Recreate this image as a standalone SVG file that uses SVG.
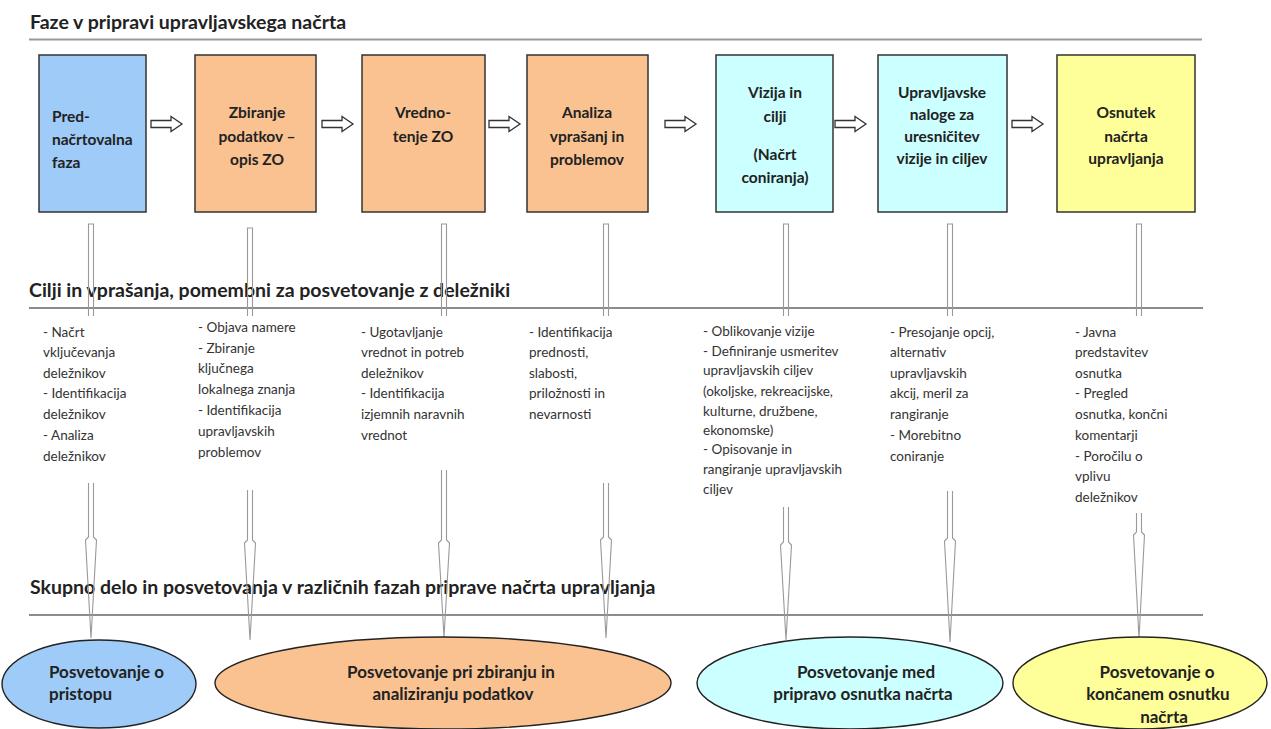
<svg xmlns="http://www.w3.org/2000/svg" xmlns:xlink="http://www.w3.org/1999/xlink" width="1271" height="729" viewBox="0 0 1271 729">
  <style>
    .head { font-family: Lato, "Liberation Sans", sans-serif; font-weight: bold; font-size: 19.5px; fill: #222; }
    .rule1 { stroke: #9a9a9a; stroke-width: 2; }
    .rule { stroke: #666; stroke-width: 1.3; }
    .box { stroke: #333; stroke-width: 1.5; }
    .btxt { font-family: Lato, "Liberation Sans", sans-serif; font-weight: bold; font-size: 15.5px; fill: #222; }
    .body { font-family: Lato, "Liberation Sans", sans-serif; font-size: 13.5px; fill: #333; }
    .etxt { font-family: Lato, "Liberation Sans", sans-serif; font-weight: bold; font-size: 17px; fill: #222; }
    .mid { text-anchor: middle; }
    .blue { fill: #9ECBF7; }
    .orange { fill: #FAC291; }
    .cyan { fill: #CCFFFF; }
    .yellow { fill: #FFFF99; }
    .shaft { fill: none; stroke: #999; stroke-width: 1.1; }
    .flow { fill: #fff; stroke: #333; stroke-width: 1.3; }
    .oval { stroke: #222; stroke-width: 1.4; }
  </style>
  <defs>
    <path id="blockArrow" d="M0,-3.5 H20 V-7.5 L31,0 L20,7.5 V3.5 H0 Z"/>
  </defs>

  <!-- section headings and rules -->
  <g id="headings">
    <text class="head" x="30" y="29">Faze v pripravi upravljavskega načrta</text>
    <line class="rule1" x1="29" y1="39.5" x2="1202" y2="39.5"/>
    <text class="head" x="29" y="297">Cilji in vprašanja, pomembni za posvetovanje z deležniki</text>
    <line class="rule" x1="29" y1="308" x2="1203" y2="308"/>
    <text class="head" x="30" y="594">Skupno delo in posvetovanja v različnih fazah priprave načrta upravljanja</text>
    <line class="rule" x1="29" y1="615" x2="1203" y2="615"/>
  </g>

  <!-- connectors: flow arrows between phases and vertical links -->
  <g id="connectors">
    <use href="#blockArrow" class="flow" x="151" y="124"/>
    <use href="#blockArrow" class="flow" x="322" y="124"/>
    <use href="#blockArrow" class="flow" x="489" y="124"/>
    <use href="#blockArrow" class="flow" x="665" y="124"/>
    <use href="#blockArrow" class="flow" x="835" y="124"/>
    <use href="#blockArrow" class="flow" x="1012" y="124"/>

    <!-- upper links -->
    <path class="shaft" d="M88.5,316 V224 H93.5 V316"/>
    <path class="shaft" d="M247.5,316 V228 H252.5 V316"/>
    <path class="shaft" d="M441.5,316 V224 H446.5 V316"/>
    <path class="shaft" d="M603.5,316 V224 H608.5 V316"/>
    <path class="shaft" d="M783.5,316 V224 H788.5 V316"/>
    <path class="shaft" d="M947.5,316 V224 H952.5 V316"/>
    <path class="shaft" d="M1136.5,316 V224 H1141.5 V316"/>

    <!-- lower links with long tapered heads -->
    <path class="shaft" d="M88.5,483 V537 L85.5,540 L91,638 L96.5,540 L93.5,537 V483"/>
    <path class="shaft" d="M247.5,490 V540 L244.5,543 L250,640 L255.5,543 L252.5,540 V490"/>
    <path class="shaft" d="M441.5,470 V540 L438.5,543 L444,637 L449.5,543 L446.5,540 V470"/>
    <path class="shaft" d="M603.5,483 V537 L600.5,540 L606,638 L611.5,540 L608.5,537 V483"/>
    <path class="shaft" d="M783.5,507 V542 L780.5,545 L786,640 L791.5,545 L788.5,542 V507"/>
    <path class="shaft" d="M947.5,491 V538 L944.5,541 L950,642 L955.5,541 L952.5,538 V491"/>
    <path class="shaft" d="M1136.5,513 V532 L1133.5,535 L1139,638 L1144.5,535 L1141.5,532 V513"/>
  </g>

  <!-- phase boxes -->
  <g id="phase-1">
    <rect class="box blue" x="39" y="55" width="107" height="157"/>
    <text class="btxt" x="52"><tspan x="52" y="122">Pred-</tspan><tspan x="52" y="145">načrtovalna</tspan><tspan x="52" y="168">faza</tspan></text>
  </g>
  <g id="phase-2">
    <rect class="box orange" x="195" y="55" width="121" height="157"/>
    <text class="btxt mid"><tspan x="257" y="118">Zbiranje</tspan><tspan x="257" y="142">podatkov –</tspan><tspan x="257" y="165">opis ZO</tspan></text>
  </g>
  <g id="phase-3">
    <rect class="box orange" x="362" y="55" width="123" height="157"/>
    <text class="btxt mid"><tspan x="423" y="118">Vredno-</tspan><tspan x="423" y="142">tenje ZO</tspan></text>
  </g>
  <g id="phase-4">
    <rect class="box orange" x="527" y="55" width="121" height="157"/>
    <text class="btxt mid"><tspan x="587" y="118">Analiza</tspan><tspan x="587" y="142">vprašanj in</tspan><tspan x="587" y="165">problemov</tspan></text>
  </g>
  <g id="phase-5">
    <rect class="box cyan" x="716" y="55" width="117" height="157"/>
    <text class="btxt mid"><tspan x="775" y="98">Vizija in</tspan><tspan x="775" y="122">cilji</tspan><tspan x="775" y="160">(Načrt</tspan><tspan x="775" y="183">coniranja)</tspan></text>
  </g>
  <g id="phase-6">
    <rect class="box cyan" x="878" y="55" width="129" height="157"/>
    <text class="btxt mid"><tspan x="942" y="98">Upravljavske</tspan><tspan x="942" y="120">naloge za</tspan><tspan x="942" y="142">uresničitev</tspan><tspan x="942" y="164">vizije in ciljev</tspan></text>
  </g>
  <g id="phase-7">
    <rect class="box yellow" x="1057" y="55" width="138" height="157"/>
    <text class="btxt mid"><tspan x="1126" y="118">Osnutek</tspan><tspan x="1126" y="142">načrta</tspan><tspan x="1126" y="164">upravljanja</tspan></text>
  </g>

  <!-- consultation goals per phase -->
  <g id="goals-1">
    <text class="body"><tspan x="43" y="337">- Načrt</tspan><tspan x="43" y="357">vključevanja</tspan><tspan x="43" y="378">deležnikov</tspan><tspan x="43" y="398">- Identifikacija</tspan><tspan x="43" y="419">deležnikov</tspan><tspan x="43" y="440">- Analiza</tspan><tspan x="43" y="461">deležnikov</tspan></text>
  </g>
  <g id="goals-2">
    <text class="body"><tspan x="198" y="332">- Objava namere</tspan><tspan x="198" y="353">- Zbiranje</tspan><tspan x="198" y="373">ključnega</tspan><tspan x="198" y="394">lokalnega znanja</tspan><tspan x="198" y="415">- Identifikacija</tspan><tspan x="198" y="436">upravljavskih</tspan><tspan x="198" y="457">problemov</tspan></text>
  </g>
  <g id="goals-3">
    <text class="body"><tspan x="361" y="337">- Ugotavljanje</tspan><tspan x="361" y="357">vrednot in potreb</tspan><tspan x="361" y="378">deležnikov</tspan><tspan x="361" y="398">- Identifikacija</tspan><tspan x="361" y="419">izjemnih naravnih</tspan><tspan x="361" y="440">vrednot</tspan></text>
  </g>
  <g id="goals-4">
    <text class="body"><tspan x="529" y="337">- Identifikacija</tspan><tspan x="529" y="357">prednosti,</tspan><tspan x="529" y="378">slabosti,</tspan><tspan x="529" y="398">priložnosti in</tspan><tspan x="529" y="419">nevarnosti</tspan></text>
  </g>
  <g id="goals-5">
    <text class="body"><tspan x="703" y="336">- Oblikovanje vizije</tspan><tspan x="703" y="356">- Definiranje usmeritev</tspan><tspan x="703" y="375">upravljavskih ciljev</tspan><tspan x="703" y="396">(okoljske, rekreacijske,</tspan><tspan x="703" y="416">kulturne, družbene,</tspan><tspan x="703" y="435">ekonomske)</tspan><tspan x="703" y="454">- Opisovanje in</tspan><tspan x="703" y="474">rangiranje upravljavskih</tspan><tspan x="703" y="494">ciljev</tspan></text>
  </g>
  <g id="goals-6">
    <text class="body"><tspan x="890" y="337">- Presojanje opcij,</tspan><tspan x="890" y="357">alternativ</tspan><tspan x="890" y="378">upravljavskih</tspan><tspan x="890" y="398">akcij, meril za</tspan><tspan x="890" y="419">rangiranje</tspan><tspan x="890" y="440">- Morebitno</tspan><tspan x="890" y="461">coniranje</tspan></text>
  </g>
  <g id="goals-7">
    <text class="body"><tspan x="1075" y="337">- Javna</tspan><tspan x="1075" y="357">predstavitev</tspan><tspan x="1075" y="378">osnutka</tspan><tspan x="1075" y="398">- Pregled</tspan><tspan x="1075" y="419">osnutka, končni</tspan><tspan x="1075" y="440">komentarji</tspan><tspan x="1075" y="461">- Poročilu o</tspan><tspan x="1075" y="481">vplivu</tspan><tspan x="1075" y="502">deležnikov</tspan></text>
  </g>

  <!-- consultation stages -->
  <g id="consult-1">
    <ellipse class="oval blue" cx="99" cy="684" rx="97" ry="44"/>
    <text class="etxt"><tspan x="49" y="678">Posvetovanje o</tspan><tspan x="49" y="700">pristopu</tspan></text>
  </g>
  <g id="consult-2">
    <ellipse class="oval orange" cx="443" cy="683" rx="228" ry="46"/>
    <text class="etxt mid"><tspan x="451" y="678">Posvetovanje pri zbiranju in</tspan><tspan x="453" y="700">analiziranju podatkov</tspan></text>
  </g>
  <g id="consult-3">
    <ellipse class="oval cyan" cx="850" cy="683" rx="153" ry="46"/>
    <text class="etxt mid"><tspan x="866" y="678">Posvetovanje med</tspan><tspan x="863" y="700">pripravo osnutka načrta</tspan></text>
  </g>
  <g id="consult-4">
    <ellipse class="oval yellow" cx="1140" cy="683" rx="127" ry="46"/>
    <text class="etxt mid"><tspan x="1157" y="678">Posvetovanje o</tspan><tspan x="1158" y="700">končanem osnutku</tspan><tspan x="1164" y="723">načrta</tspan></text>
  </g>
</svg>
